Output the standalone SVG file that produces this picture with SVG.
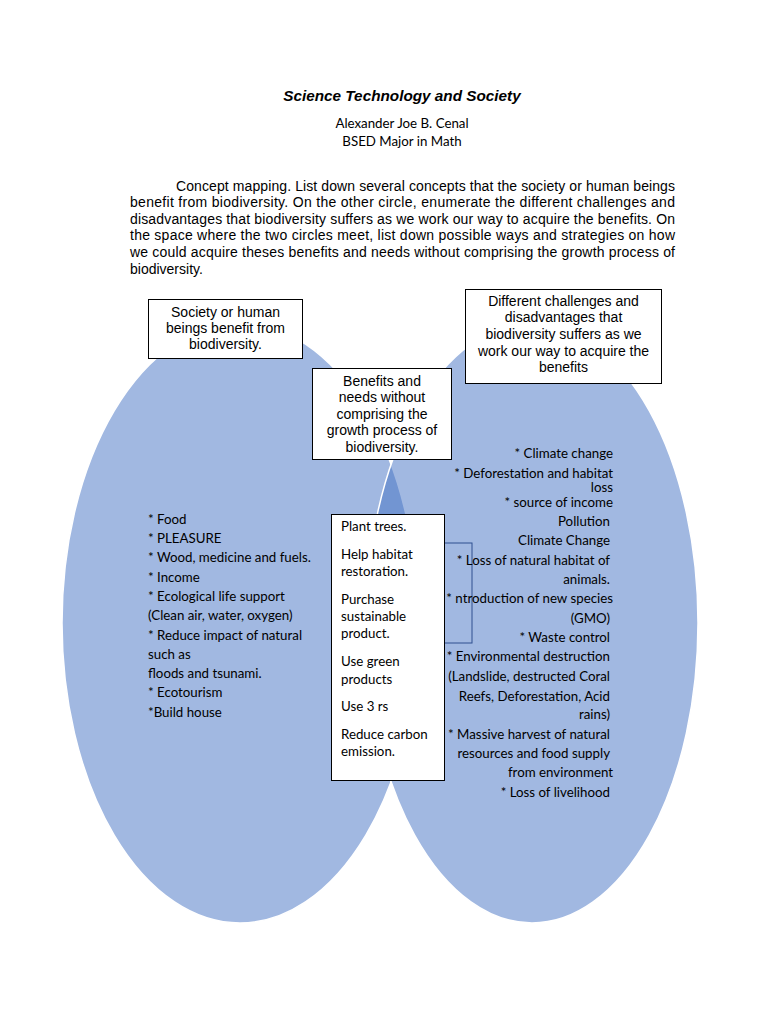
<svg xmlns="http://www.w3.org/2000/svg" width="768" height="1024" viewBox="0 0 768 1024">
<style>
.hdr{font-family:"Liberation Sans",Arial,sans-serif;font-size:14px;fill:#000}
.ttl{font-family:"Liberation Sans",Arial,sans-serif;font-size:15.3px;font-weight:bold;font-style:italic;fill:#000}
.cal{font-family:Lato,"Liberation Sans",sans-serif;font-size:13.3px;fill:#000}
.box{fill:#fff;stroke:#000;stroke-width:1}
.lbl{font-family:"Liberation Sans",Arial,sans-serif;font-size:14px;fill:#000;text-anchor:middle}
.venn{fill:#4472C4;fill-opacity:0.5;stroke:#fff;stroke-width:1.5}
.r{text-anchor:end}
</style>
<rect width="768" height="1024" fill="#fff"/>
<g id="header">
<text class="ttl" x="402" y="101" text-anchor="middle">Science Technology and Society</text>
<text class="cal" x="402" y="128" text-anchor="middle" font-size="13.6">Alexander Joe B. Cenal</text>
<text class="cal" x="402" y="146" text-anchor="middle" font-size="13.6">BSED Major in Math</text>
<text class="hdr" x="176" y="191" textLength="499" lengthAdjust="spacing">Concept mapping. List down several concepts that the society or human beings</text>
<text class="hdr" x="130" y="207" textLength="545" lengthAdjust="spacing">benefit from biodiversity. On the other circle, enumerate the different challenges and</text>
<text class="hdr" x="130" y="224" textLength="545" lengthAdjust="spacing">disadvantages that biodiversity suffers as we work our way to acquire the benefits. On</text>
<text class="hdr" x="130" y="240" textLength="545" lengthAdjust="spacing">the space where the two circles meet, list down possible ways and strategies on how</text>
<text class="hdr" x="130" y="257" textLength="545" lengthAdjust="spacing">we could acquire theses benefits and needs without comprising the growth process of</text>
<text class="hdr" x="130" y="274">biodiversity.</text>
</g>
<g id="venn">
<ellipse id="left-circle" class="venn" cx="240" cy="623" rx="178" ry="300"/>
<ellipse id="right-circle" class="venn" cx="532" cy="623" rx="166" ry="300"/>
</g>
<g id="connectors">
<rect x="420" y="543" width="52" height="100" fill="none" stroke="#2F4F8F" stroke-width="1"/>
</g>
<g id="left-list" class="cal">
<text x="148" y="524">* Food</text>
<text x="148" y="543">* PLEASURE</text>
<text x="148" y="562">* Wood, medicine and fuels.</text>
<text x="148" y="582">* Income</text>
<text x="148" y="601">* Ecological life support</text>
<text x="148" y="620">(Clean air, water, oxygen)</text>
<text x="148" y="640">* Reduce impact of natural</text>
<text x="148" y="659">such as</text>
<text x="148" y="678">floods and tsunami.</text>
<text x="148" y="697">* Ecotourism</text>
<text x="148" y="717">*Build house</text>
</g>
<g id="right-list" class="cal r">
<text x="613" y="458">* Climate change</text>
<text x="613" y="478">* Deforestation and habitat</text>
<text x="613" y="492">loss</text>
<text x="613" y="507">* source of income</text>
<text x="610" y="526">Pollution</text>
<text x="610" y="545">Climate Change</text>
<text x="610" y="565">* Loss of natural habitat of</text>
<text x="610" y="584">animals.</text>
<text x="613" y="603">* ntroduction of new species</text>
<text x="610" y="623">(GMO)</text>
<text x="610" y="642">* Waste control</text>
<text x="610" y="661">* Environmental destruction</text>
<text x="610" y="681">(Landslide, destructed Coral</text>
<text x="610" y="701">Reefs, Deforestation, Acid</text>
<text x="610" y="719">rains)</text>
<text x="610" y="739">* Massive harvest of natural</text>
<text x="610" y="758">resources and food supply</text>
<text x="613" y="777">from environment</text>
<text x="610" y="797">* Loss of livelihood</text>
</g>
<g id="node-society">
<rect class="box" x="148.5" y="299.5" width="154" height="59"/>
<text class="lbl" x="225.5" y="317">Society or human</text>
<text class="lbl" x="225.5" y="333">beings benefit from</text>
<text class="lbl" x="225.5" y="349">biodiversity.</text>
</g>
<g id="node-challenges">
<rect class="box" x="465.5" y="289.5" width="196" height="94"/>
<text class="lbl" x="563.5" y="306">Different challenges and</text>
<text class="lbl" x="563.5" y="322">disadvantages that</text>
<text class="lbl" x="563.5" y="339">biodiversity suffers as we</text>
<text class="lbl" x="563.5" y="356">work our way to acquire the</text>
<text class="lbl" x="563.5" y="372">benefits</text>
</g>
<g id="node-benefits">
<rect class="box" x="312.5" y="368.5" width="139" height="91"/>
<text class="lbl" x="382" y="386">Benefits and</text>
<text class="lbl" x="382" y="402">needs without</text>
<text class="lbl" x="382" y="419">comprising the</text>
<text class="lbl" x="382" y="435">growth process of</text>
<text class="lbl" x="382" y="452">biodiversity.</text>
</g>
<g id="node-strategies">
<rect class="box" x="331.5" y="514.5" width="113" height="266"/>
<g class="cal">
<text x="341" y="531">Plant trees.</text>
<text x="341" y="559">Help habitat</text>
<text x="341" y="576">restoration.</text>
<text x="341" y="604">Purchase</text>
<text x="341" y="621">sustainable</text>
<text x="341" y="638">product.</text>
<text x="341" y="666">Use green</text>
<text x="341" y="684">products</text>
<text x="341" y="711">Use 3 rs</text>
<text x="341" y="739">Reduce carbon</text>
<text x="341" y="756">emission.</text>
</g>
</g>
</svg>
